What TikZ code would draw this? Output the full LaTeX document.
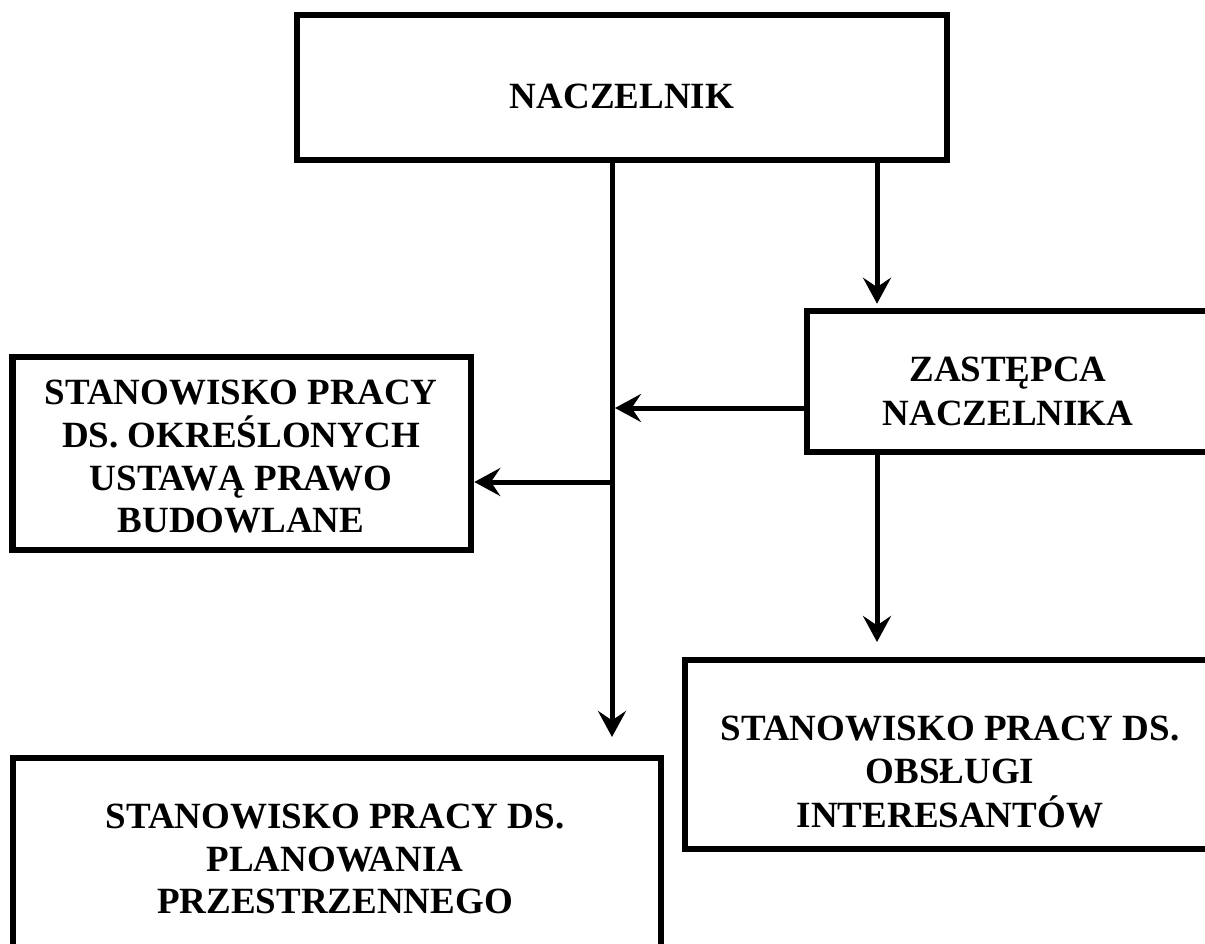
\documentclass[tikz,border=0pt]{standalone}
\usepackage{fontspec}
\setmainfont{Liberation Serif}
\usetikzlibrary{arrows.meta}
\begin{document}
\begin{tikzpicture}[x=0.75pt,y=-0.75pt,
  box/.style={draw=black,line width=4.9pt,inner sep=0pt,anchor=center},
  lbl/.style={anchor=base,inner sep=0pt,font=\fontsize{27.75pt}{32pt}\selectfont\bfseries},
  arr/.style={draw=black,line width=3.75pt,-{Stealth[length=19.5pt,width=21pt,inset=7pt]}}]
\useasboundingbox (0,0) rectangle (1205,944);
\clip (0,0) rectangle (1205,944);
\fill[white] (0,0) rectangle (1205,944);
% boxes
\node[box,minimum width=487.5pt,minimum height=108.75pt] (nacz) at (622,87.5) {};
\node[box,minimum width=301.5pt,minimum height=105.75pt] (zast) at (1008,381.5) {};
\node[box,minimum width=343.9pt,minimum height=144.75pt] (ustawa) at (241.75,453.5) {};
\node[box,minimum width=397.5pt,minimum height=141.75pt] (obs) at (950,754.5) {};
\node[box,minimum width=486pt,minimum height=147pt] (plan) at (337,856) {};
% texts
\node[lbl] (naczt) at (622,109) {NACZELNIK};
\node[lbl] (zastt1) at (1008,382) {ZASTĘPCA};
\node[lbl] (zastt2) at (1008,425) {NACZELNIKA};
\node[lbl] (ust1) at (241,404) {STANOWISKO PRACY};
\node[lbl] (ust2) at (241,447) {DS. OKREŚLONYCH};
\node[lbl] (ust3) at (241,490) {USTAWĄ PRAWO};
\node[lbl] (ust4) at (241,532) {BUDOWLANE};
\node[lbl] (obst1) at (950,740) {STANOWISKO PRACY DS.};
\node[lbl] (obst2) at (950,783) {OBSŁUGI};
\node[lbl] (obst3) at (950,827) {INTERESANTÓW};
\node[lbl] (plant1) at (335,828) {STANOWISKO PRACY DS.};
\node[lbl] (plant2) at (335,871) {PLANOWANIA};
\node[lbl] (plant3) at (335,913) {PRZESTRZENNEGO};
% connectors
\coordinate (t1) at (612,737);
\coordinate (j1) at (615,408);
\coordinate (j2) at (612,482);
\coordinate (r1) at (877,0);
\coordinate (t2) at (877,642);
\draw[arr] (nacz.south -| t1) -- (t1);
\draw[arr] (zast.west |- j1) -- (j1);
\draw[arr] (j2) -- (ustawa.east |- j2);
\draw[arr,shorten >=3pt] (nacz.south -| r1) -- (zast.north -| r1);
\draw[arr] (zast.south -| t2) -- (t2);
\end{tikzpicture}
\end{document}
